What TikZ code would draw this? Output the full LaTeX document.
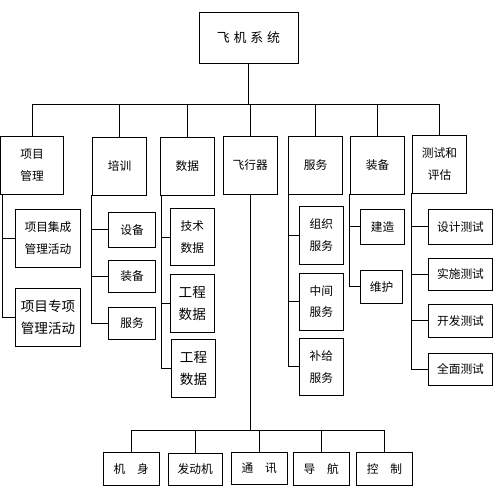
\documentclass[tikz,border=0pt]{standalone}
\usepackage{fontspec}
\setmainfont{Noto Sans CJK SC}
\usepackage{tikz}

\begin{document}
\begin{tikzpicture}[
  x=0.03cm, y=-0.03cm,
  box/.style={draw, line width=0.7pt, inner sep=0pt, align=center,
    font=\fontsize{10pt}{18.5pt}\selectfont},
  big/.style={font=\fontsize{11.6pt}{18.5pt}\selectfont},
  sz/.style 2 args={minimum width=#1*0.03cm, minimum height=#2*0.03cm},
  line/.style={line width=0.7pt}
]
\useasboundingbox (0,0) rectangle (498,492);

% top
\node[box, font=\fontsize{11pt}{13pt}\selectfont, sz={99}{51}] (sys) at (248.5,37.5) {飞\hspace{0.3em}机\hspace{0.3em}系\hspace{0.3em}统};

% first level
\node[box, sz={62.6}{58}] (mgmt)  at (32,165)    {项目\\管理};
\node[box, sz={54.4}{58}] (train) at (119.5,166) {培训};
\node[box, sz={54}{58}]   (data)  at (187.3,166) {数据};
\node[box, sz={54.3}{58}] (craft) at (250.2,165) {飞行器};
\node[box, sz={54.4}{58}] (serv)  at (315.5,165) {服务};
\node[box, sz={54.4}{58}] (equip) at (377.5,165) {装备};
\node[box, sz={54.4}{58}] (test)  at (439.5,164) {测试和\\评估};

% second level
\node[box, sz={65.4}{58}]        (mgmtA) at (48,238.3)  {项目集成\\管理活动};
\node[box, big, sz={65.4}{58.4}] (mgmtB) at (48,317.5)  {项目专项\\管理活动};
\node[box, sz={47.4}{35}]   (trainA) at (132,229.8) {设备};
\node[box, sz={47.4}{32}]   (trainB) at (132,276.3) {装备};
\node[box, sz={47.4}{32}]   (trainC) at (132,323.3) {服务};
\node[box, sz={44}{57.4}]        (dataA) at (192.3,237)   {技术\\数据};
\node[box, big, sz={44}{58.4}]   (dataB) at (192.3,303.5) {工程\\数据};
\node[box, big, sz={44.4}{58}]   (dataC) at (193.5,368.3) {工程\\数据};
\node[box, sz={44.7}{58}]   (servA) at (321.3,235)   {组织\\服务};
\node[box, sz={44.7}{56.7}] (servB) at (321.3,301.7) {中间\\服务};
\node[box, sz={44.7}{57}]   (servC) at (321.3,366.8) {补给\\服务};
\node[box, sz={44.4}{34.7}] (equipA) at (382.5,226.7) {建造};
\node[box, sz={42.4}{33}]   (equipB) at (381.5,286.8) {维护};
\node[box, sz={64.4}{35}]   (testA) at (460.5,226.8) {设计测试};
\node[box, sz={64.4}{31.7}] (testB) at (460.5,274.2) {实施测试};
\node[box, sz={64.4}{32.7}] (testC) at (460.5,320.7) {开发测试};
\node[box, sz={64.4}{31.7}] (testD) at (460.5,369.2) {全面测试};

% aircraft parts
\node[box, sz={56}{33}]   (body)   at (131.3,468.8) {机\hspace{1em}身};
\node[box, sz={54}{32}]   (engine) at (195.3,469.3) {发动机};
\node[box, sz={56}{32.4}] (comm)   at (259.3,468.5) {通\hspace{1em}讯};
\node[box, sz={56}{33}]   (navi)   at (321.3,468.8) {导\hspace{1em}航};
\node[box, sz={55.6}{33}] (ctrl)   at (384.5,468.8) {控\hspace{1em}制};

\coordinate (busT) at (0,104);
\coordinate (busB) at (0,430.7);

\draw[line] (sys.south) -- (sys.south |- busT);
\draw[line] (mgmt.north) -- (mgmt.north |- busT) -- (test.north |- busT) -- (test.north);
\foreach \n in {train,data,craft,serv,equip}
  \draw[line] (\n.north) -- (\n.north |- busT);

\foreach \n in {mgmtA,mgmtB}
  \draw[line] ([xshift=0.05cm]mgmt.south west) |- (\n.west);
\foreach \n in {trainA,trainB,trainC}
  \draw[line] (train.south west) |- (\n.west);
\foreach \n in {dataA,dataB,dataC}
  \draw[line] ([xshift=0.04cm]data.south west) |- (\n.west);
\foreach \n in {servA,servB,servC}
  \draw[line] ([xshift=0.03cm]serv.south west) |- (\n.west);
\foreach \n in {equipA,equipB}
  \draw[line] (equip.south west) |- (\n.west);
\foreach \n in {testA,testB,testC,testD}
  \draw[line] (test.south west) |- (\n.west);

\draw[line] (craft.south) -- (craft.south |- busB);
\draw[line] (body.north) -- (body.north |- busB) -- (ctrl.north |- busB) -- (ctrl.north);
\foreach \n in {engine,comm,navi}
  \draw[line] (\n.north) -- (\n.north |- busB);
\end{tikzpicture}
\end{document}
